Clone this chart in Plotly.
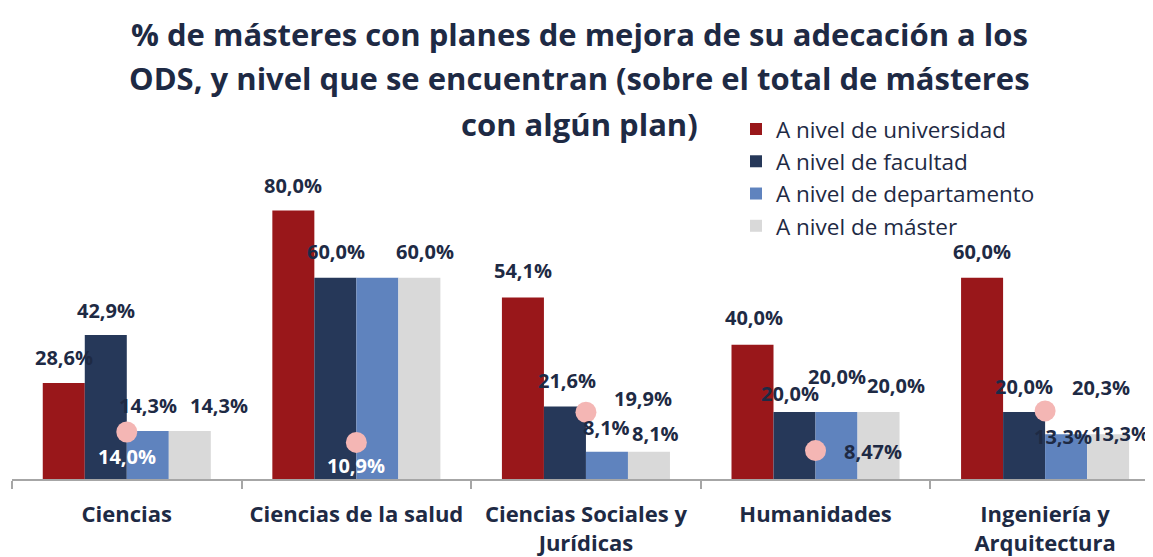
import plotly.graph_objects as go

# ---- data ----
categories = ["Ciencias", "Ciencias de la salud", "Ciencias Sociales y<br>Jurídicas",
              "Humanidades", "Ingeniería y<br>Arquitectura"]
series_names = ["A nivel de universidad", "A nivel de facultad",
                "A nivel de departamento", "A nivel de máster"]
universidad = [28.6, 80.0, 54.1, 40.0, 60.0]
facultad = [42.9, 60.0, 21.6, 20.0, 20.0]
departamento = [14.3, 60.0, 8.1, 20.0, 13.3]
master = [14.3, 60.0, 8.1, 20.0, 13.3]
puntos = [14.0, 10.9, 19.9, 8.47, 20.3]
title_lines = ["% de másteres con planes de mejora de su adecación a los",
               "ODS, y nivel que se encuentran (sobre el total de másteres",
               "con algún plan)"]

# ---- style ----
colors = ["#99171A", "#263859", "#5F83BE", "#D9D9D9"]
dark = "#1E2A44"
FONT = "Open Sans"
bargap = 0.268
barw = (1 - bargap) / 4
PLOT_W = 1141
PLOT_H = 384

# label pixel offsets (dx, dy) from bar top; None = hidden label
label_offsets = [
    [(0, -26), (0, -25), (0, -27), (1, -27), (0, -26)],
    [(0, -25), (1, -26), (2, -26), (-5, -18), (0, -25)],
    [(0, -26), None, (0, -24), (0, -35), (-3, 2)],
    [(29, -26), (6, -26), (7, -18), (17, -26), (12, -1)],
]
dot_offsets = [(0, 24), (0, 23), (57, -14), (57, 1), (56, -23)]
dot_label_colors = ["white", "white", dark, dark, dark]


def fmt(v):
    s = f"{v:.1f}" if round(v, 1) == v else f"{v:.2f}"
    return s.replace(".", ",") + "%"


fig = go.Figure()
all_series = [universidad, facultad, departamento, master]
for i, (name, vals) in enumerate(zip(series_names, all_series)):
    fig.add_trace(go.Bar(x=categories, y=vals, name=name, marker_color=colors[i],
                         marker_line_width=0, legendgroup=name))

fig.add_trace(go.Scatter(x=categories, y=puntos, mode="markers", showlegend=False,
                         marker=dict(size=21, color="#F4B6B4"), cliponaxis=False))

annotations = []
for i, vals in enumerate(all_series):
    for j, v in enumerate(vals):
        off = label_offsets[i][j]
        if off is None:
            continue
        annotations.append(dict(
            x=j + (i - 1.5) * barw, y=v, xref="x", yref="y", text=f"<b>{fmt(v)}</b>",
            showarrow=False, xanchor="center", yanchor="middle",
            xshift=off[0], yshift=-off[1],
            font=dict(family=FONT, size=20, color=dark)))
for j, v in enumerate(puntos):
    off = dot_offsets[j]
    annotations.append(dict(
        x=j, y=v, xref="x", yref="y", text=f"<b>{fmt(v)}</b>",
        showarrow=False, xanchor="center", yanchor="middle",
        xshift=off[0], yshift=-off[1],
        font=dict(family=FONT, size=20, color=dot_label_colors[j])))

# title lines (page y centres of each line)
title_y = [33, 78, 124]
for line, yy in zip(title_lines, title_y):
    annotations.append(dict(
        x=(579 - 12) / PLOT_W, y=(484 - yy) / PLOT_H, xref="paper", yref="paper",
        text=f"<b>{line}</b>", showarrow=False, xanchor="center", yanchor="middle",
        font=dict(family=FONT, size=31, color=dark)))

fig.update_layout(
    width=1145, height=549,
    margin=dict(l=4, r=0, t=92, b=73),
    paper_bgcolor="white", plot_bgcolor="white",
    barmode="group", bargap=bargap, bargroupgap=0,
    showlegend=True,
    legend=dict(x=(736 - 12) / PLOT_W, y=(484 - 108) / PLOT_H, xanchor="left", yanchor="top",
                font=dict(family=FONT, size=22.5, color=dark),
                bgcolor="rgba(0,0,0,0)", tracegroupgap=0, itemwidth=30),
    xaxis=dict(type="category", range=[-0.5, 4.47], showline=True, linecolor="#A6A6A6",
               linewidth=1.5, ticks="outside", tickson="boundaries", ticklen=8,
               tickcolor="#A6A6A6", tickwidth=1.5, ticklabelstandoff=15,
               tickfont=dict(family=FONT, size=22, color=dark, weight="bold"),
               showgrid=False, fixedrange=True),
    yaxis=dict(range=[0, PLOT_H / 3.4], visible=False, showgrid=False, fixedrange=True),
    annotations=annotations,
)

fig.write_html("out.html")
